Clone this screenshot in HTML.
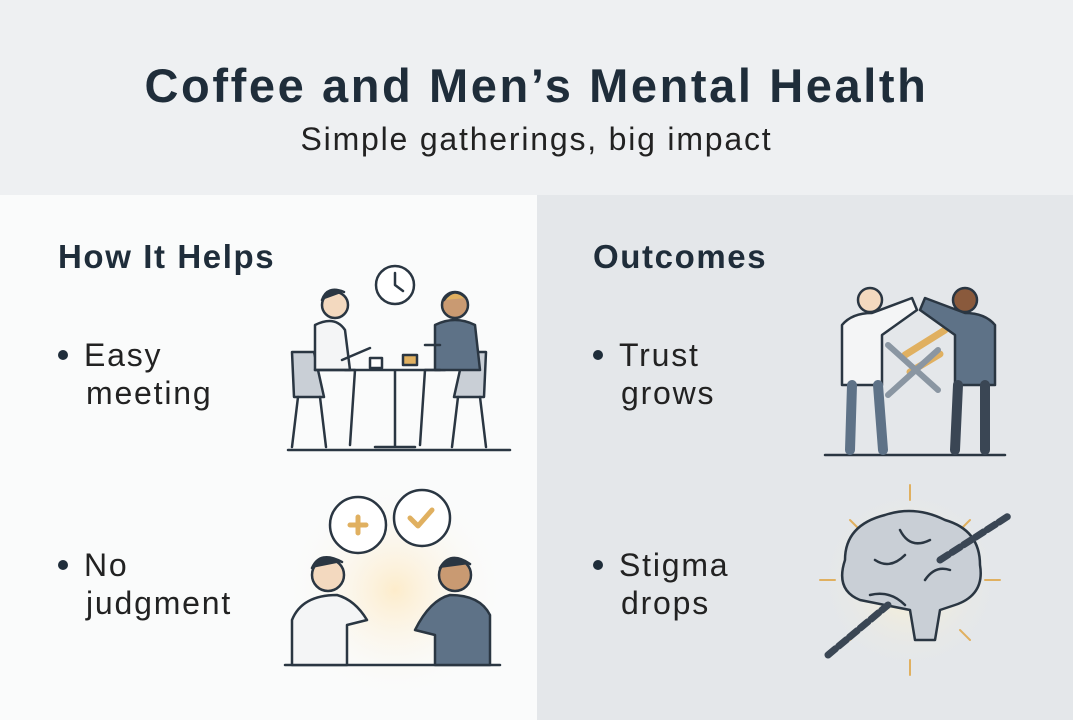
<!DOCTYPE html>
<html><head><meta charset="utf-8"><style>
html,body{margin:0;padding:0}
body{width:1073px;height:720px;position:relative;overflow:hidden;font-family:"Liberation Sans",sans-serif;color:#1f2d3a;background:#fafbfb}
.hdr{position:absolute;left:0;top:0;width:1073px;height:195px;background:#eef0f2}
.right{position:absolute;left:537px;top:195px;width:536px;height:525px;background:#e4e7ea}
.t{position:absolute;white-space:nowrap}
h1{position:absolute;margin:0;left:0;width:1073px;text-align:center;top:58px;font-size:47px;font-weight:bold;letter-spacing:2.6px}
.sub{position:absolute;left:0;width:1073px;text-align:center;top:121px;font-size:32px;color:#222;letter-spacing:1.8px}
.h2{font-size:33px;font-weight:bold;letter-spacing:1.6px}
.b{font-size:32px;line-height:38px;color:#222;letter-spacing:1.8px}
.dot{display:inline-block;width:10px;height:10px;border-radius:50%;background:#1f2d3a;margin-right:16px;vertical-align:middle;position:relative;top:-3px}
svg{position:absolute}
</style></head><body>
<div class="hdr"></div>
<div class="right"></div>
<h1>Coffee and Men’s Mental Health</h1>
<div class="sub">Simple gatherings, big impact</div>
<div class="t h2" style="left:58px;top:238px">How It Helps</div>
<div class="t h2" style="left:593px;top:238px">Outcomes</div>
<div class="t b" style="left:58px;top:336px"><span class="dot"></span>Easy<br><span style="margin-left:28px">meeting</span></div>
<div class="t b" style="left:58px;top:546px"><span class="dot"></span>No<br><span style="margin-left:28px">judgment</span></div>
<div class="t b" style="left:593px;top:336px"><span class="dot"></span>Trust<br><span style="margin-left:28px">grows</span></div>
<div class="t b" style="left:593px;top:546px"><span class="dot"></span>Stigma<br><span style="margin-left:28px">drops</span></div>

<svg width="1073" height="720" style="left:0;top:0" fill="none" stroke="#2a3642" stroke-width="2.5" stroke-linecap="round" stroke-linejoin="round">
<circle cx="395" cy="285" r="19" fill="#fff"/><path d="M395 273v12l8 6"/>
<line x1="288" y1="450" x2="510" y2="450"/>
<path d="M292 352h22l10 45h-30z" fill="#c9cfd6"/><path d="M298 397l-6 50M320 397l6 50"/>
<path d="M486 352h-22l-10 45h30z" fill="#c9cfd6"/><path d="M480 397l6 50M458 397l-6 50"/>
<path d="M345 370h100M395 370v77M375 447h40"/>
<circle cx="335" cy="305" r="13" fill="#f3d9bf"/><path d="M322 300q5-15 22-8" fill="#2a3642"/>
<path d="M315 325q20-10 30 5l5 40h-35z" fill="#f4f5f6"/><path d="M315 370h40l-5 75M342 360l28-12"/>
<circle cx="455" cy="305" r="13" fill="#c99a72"/><path d="M444 300q10-14 22 -2" fill="#e0b060"/>
<path d="M435 325q20-10 40 0l5 45h-45z" fill="#5e7287"/><path d="M440 370h-15l-5 75M440 345l-15 0"/>
<path d="M403 355h14v10h-14z" fill="#e0b060"/><path d="M370 358h12v10h-12z" fill="#fff"/>
</svg>

<svg width="1073" height="720" style="left:0;top:0" fill="none" stroke="#2a3642" stroke-width="2.5" stroke-linecap="round" stroke-linejoin="round">
<defs><radialGradient id="g"><stop offset="0" stop-color="#fdeccb"/><stop offset="1" stop-color="#fafbfb" stop-opacity="0"/></radialGradient>
<radialGradient id="g2"><stop offset="0" stop-color="#fff3cf"/><stop offset="1" stop-color="#e4e7ea" stop-opacity="0"/></radialGradient></defs>
<circle cx="395" cy="590" r="110" fill="url(#g)" stroke="none"/>
<circle cx="358" cy="525" r="28" fill="#fff"/><path d="M350 525h16M358 517v16" stroke="#e0b060" stroke-width="5"/>
<circle cx="422" cy="518" r="28" fill="#fff"/><path d="M410 518l8 8 14-16" stroke="#e0b060" stroke-width="5"/>
<line x1="285" y1="665" x2="500" y2="665"/>
<circle cx="328" cy="575" r="16" fill="#f3d9bf"/><path d="M312 568q8-18 30-6" fill="#2a3642"/>
<path d="M292 665v-45q10-25 45-25q18 5 30 25l-20 5v40z" fill="#f4f5f6"/>
<circle cx="455" cy="575" r="16" fill="#c99a72"/><path d="M440 568q10-18 30-4" fill="#2a3642"/>
<path d="M490 665v-50q-10-20-40-20q-20 5-35 35l20 5v30z" fill="#5e7287"/>
</svg>

<svg width="1073" height="720" style="left:0;top:0" fill="none" stroke="#2a3642" stroke-width="2.5" stroke-linecap="round" stroke-linejoin="round">
<line x1="825" y1="455" x2="1005" y2="455"/>
<path d="M905 355l40-25M910 372l30-18" stroke="#e0b060" stroke-width="7"/>
<path d="M888 345l50 45M888 395l50-45" stroke="#8a96a2" stroke-width="6"/>
<circle cx="870" cy="300" r="12" fill="#f3d9bf"/>
<path d="M842 385v-60q10-12 30-12l40-15 5 12-35 25v50z" fill="#f4f5f6"/>
<path d="M852 385l-2 65M878 385l5 65" stroke-width="10" stroke="#5e7287"/>
<circle cx="965" cy="300" r="12" fill="#8a5a3c"/>
<path d="M995 385v-60q-10-12-30-12l-40-15-5 12 35 25v50z" fill="#5e7287"/>
<path d="M958 385l-3 65M985 385l0 65" stroke-width="10" stroke="#3a4654"/>
</svg>

<svg width="1073" height="720" style="left:0;top:0" fill="none" stroke="#2a3642" stroke-width="2.5" stroke-linecap="round" stroke-linejoin="round">
<circle cx="910" cy="580" r="95" fill="url(#g2)" stroke="none"/>
<g stroke="#e0b060" stroke-width="2"><path d="M910 485v15M910 660v15M820 580h15M985 580h15M850 520l10 10M970 520l-10 10M850 640l10-10M970 640l-10-10"/></g>
<path d="M860 600q-25-10-15-40q0-35 40-45q30-10 60 5q35 10 35 45q5 30-25 40l-15 5-5 30h-20l-5-30z" fill="#c9cfd6"/>
<path d="M875 560q15 10 30-5M900 530q10 20 30 10M870 595q20-5 35 10M925 580q10-15 25-10"/>
<path d="M828 655l60-50M940 560l70-45" stroke="#3a4654" stroke-width="7" stroke-dasharray="10 4"/>
</svg>
</body></html>
